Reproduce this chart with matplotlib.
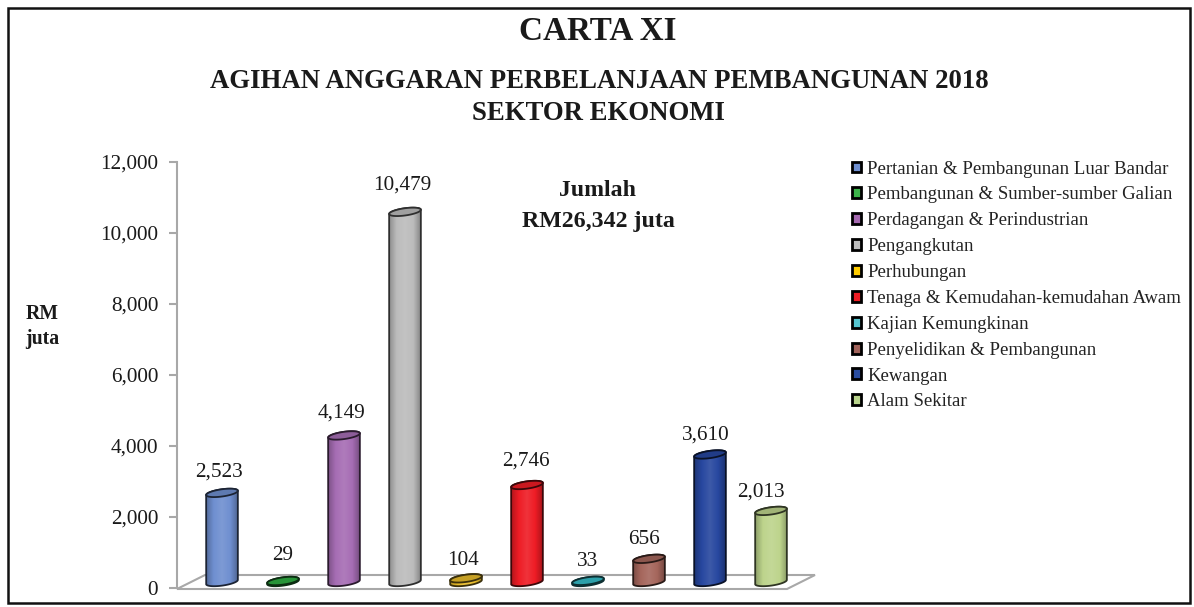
#!/usr/bin/env python
"""Carta XI: agihan anggaran perbelanjaan pembangunan 2018, sektor ekonomi."""

import matplotlib
matplotlib.use("Agg")
import matplotlib.pyplot as plt
import numpy as np
from matplotlib.colors import LinearSegmentedColormap, to_rgb
from matplotlib.patches import Patch, PathPatch, Polygon, Rectangle
from matplotlib.path import Path

plt.rcParams["font.family"] = ["Liberation Serif", "DejaVu Serif"]

sectors = [
    "Pertanian & Pembangunan Luar Bandar",
    "Pembangunan & Sumber-sumber Galian",
    "Perdagangan & Perindustrian",
    "Pengangkutan",
    "Perhubungan",
    "Tenaga & Kemudahan-kemudahan Awam",
    "Kajian Kemungkinan",
    "Penyelidikan & Pembangunan",
    "Kewangan",
    "Alam Sekitar",
]
values = [2523, 29, 4149, 10479, 104, 2746, 33, 656, 3610, 2013]
colors = ["#6f8fd0", "#2fae42", "#a66db4", "#bcbcbc", "#e9bc2a",
          "#ee1c25", "#35bcc8", "#a5665c", "#27479f", "#bdd48c"]
legend_colors = ["#6f8fd0", "#3cb44a", "#a569b0", "#bdbdbd", "#ffcc00",
                 "#ed1c24", "#55c5d0", "#a0625a", "#2a4da0", "#b9d48c"]
y_ticks = [0, 2000, 4000, 6000, 8000, 10000, 12000]

W, H = 1194, 607
AX_L, AX_R, AX_T, AX_B = 177, 815, 162, 588
STEP = 61          # px between bars
X0 = 222           # px of first bar
GREY = "#a8a8a8"

# label nudges in px, the labels were placed by hand in the original
LABEL_DX = [-3, 0, -3, -3, -3, -1, 0, -5, -4, -10]
LABEL_DY = [26, 31, 28, 31, 24, 29, 25, 25, 25, 24]


def shade(color, f):
    """f < 1 darkens, f > 1 goes towards white."""
    c = np.array(to_rgb(color))
    return tuple(c * f) if f <= 1 else tuple(c + (1 - c) * (f - 1))


def ellipse_px(a=16.0, b=3.6, tilt=8.0, n=60):
    t = np.linspace(0, 2 * np.pi, n)
    th = np.radians(tilt)
    ex = a * np.cos(t) * np.cos(th) - b * np.sin(t) * np.sin(th)
    ey = a * np.cos(t) * np.sin(th) + b * np.sin(t) * np.cos(th)
    return ex, ey


def draw_cylinder(ax, i, value, color):
    # scale from px to data units
    sx = 1 / STEP
    sy = 12000 / (AX_B - AX_T)
    base = 6 * sy
    ex, ey = ellipse_px()
    low = np.column_stack([i + ex * sx, base + ey * sy])
    top = np.column_stack([i + ex * sx, base + value * 0.995 + ey * sy])

    # outline: front half of bottom, then back half of top
    lower = low[30:60]
    upper = top[0:30]
    body = np.vstack([lower, upper, lower[:1]])
    edge = shade(color, 0.25)

    cmap = LinearSegmentedColormap.from_list(
        "c", [shade(color, 0.72), shade(color, 1.0), shade(color, 1.1),
              shade(color, 1.0), shade(color, 0.68)])
    grad = np.linspace(0, 1, 64).reshape(1, -1)
    im = ax.imshow(grad, cmap=cmap, aspect="auto", zorder=3,
                   extent=[i - 17 * sx, i + 17 * sx, base - 10 * sy, base + value + 10 * sy])
    clip = PathPatch(Path(body), transform=ax.transData, fc="none", ec="none")
    ax.add_patch(clip)
    im.set_clip_path(clip)
    ax.add_patch(Polygon(body, closed=True, fc="none", ec=edge, lw=1.3, zorder=4))
    ax.add_patch(Polygon(top, closed=True, fc=shade(color, 0.85), ec=edge, lw=1.3, zorder=5))


def main() -> None:
    fig = plt.figure(figsize=(W / 100, H / 100), dpi=100, facecolor="white")

    # bingkai luar
    fig.add_artist(Rectangle((8 / W, 1 - 603 / H), (1190 - 8) / W, (603 - 8) / H,
                             transform=fig.transFigure, fc="none", ec="#111111", lw=1.8))

    ax = fig.add_axes([AX_L / W, 1 - AX_B / H, (AX_R - AX_L) / W, (AX_B - AX_T) / H])
    ax.patch.set_alpha(0)
    ax.set_xlim((AX_L - X0) / STEP, (AX_R - X0) / STEP)
    ax.set_ylim(0, 12000)

    for s in ["top", "right", "bottom"]:
        ax.spines[s].set_visible(False)
    ax.spines["left"].set_color(GREY)
    ax.spines["left"].set_linewidth(1.5)
    ax.set_xticks([])
    ax.set_yticks(y_ticks)
    ax.set_yticklabels([f"{v:,}" for v in y_ticks], fontsize=15.3, color="#1a1a1a")
    ax.tick_params(axis="y", color=GREY, width=1.5, length=6, pad=7.5)

    # lantai carta
    fx = lambda px: (px - AX_L) / (AX_R - AX_L)
    fy = lambda px: (AX_B - px) / (AX_B - AX_T)
    floor = [(fx(177), fy(589)), (fx(205), fy(575)), (fx(815), fy(575)), (fx(787), fy(589))]
    ax.add_patch(Polygon(floor, closed=True, transform=ax.transAxes, fc="white",
                         ec=GREY, lw=1.5, zorder=1, clip_on=False))

    for i, (v, c) in enumerate(zip(values, colors)):
        draw_cylinder(ax, i, v, c)
        ax.annotate(f"{v:,}", (i, v), xytext=(LABEL_DX[i] * 0.72, LABEL_DY[i] * 0.72),
                    textcoords="offset points", ha="center", va="center",
                    fontsize=15.3, color="#1a1a1a", zorder=6)
    ax.set_xlim((AX_L - X0) / STEP, (AX_R - X0) / STEP)
    ax.set_ylim(0, 12000)

    def px_text(x, y, s, **kw):
        fig.text(x / W, 1 - y / H, s, ha="center", va="center", color="#1a1a1a", **kw)

    px_text(598, 32, "CARTA XI", fontsize=23.9, fontweight="bold")
    px_text(599, 82, "AGIHAN ANGGARAN PERBELANJAAN PEMBANGUNAN 2018", fontsize=19.3, fontweight="bold")
    px_text(598, 113, "SEKTOR EKONOMI", fontsize=19.3, fontweight="bold")
    px_text(598, 191, "Jumlah", fontsize=17.2, fontweight="bold")
    px_text(598, 222, "RM26,342 juta", fontsize=17.2, fontweight="bold")
    px_text(42, 314, "RM", fontsize=14.2, fontweight="bold")
    px_text(42, 339, "juta", fontsize=14.2, fontweight="bold")

    handles = [Patch(fc=c, ec="black", lw=2.0) for c in legend_colors]
    fig.legend(handles, sectors, loc="upper left", bbox_to_anchor=(846 / W, 1 - 155 / H),
               frameon=False, fontsize=13.5, labelcolor="#222222", handlelength=0.52,
               handleheight=0.52, handletextpad=0.30, labelspacing=0.473, borderpad=0.3,
               borderaxespad=0)

    fig.savefig("out.png", dpi=100)
    plt.close(fig)


if __name__ == "__main__":
    main()
